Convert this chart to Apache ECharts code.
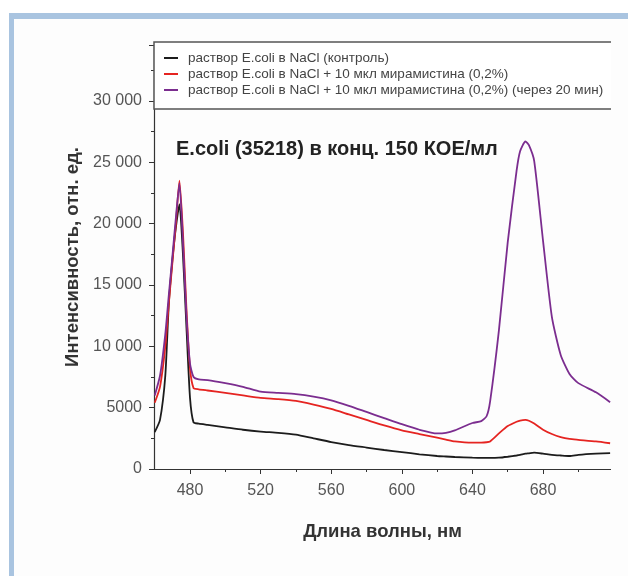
<!DOCTYPE html>
<html>
<head>
<meta charset="utf-8">
<script src="https://cdn.jsdelivr.net/npm/echarts@6/dist/echarts.min.js"></script>
<style>
  html, body { margin: 0; padding: 0; background: #fff; }
  #frame { position: absolute; left: 9px; top: 13px; width: 614px; height: 563px;
    border-top: 6px solid #a9c4e0; border-left: 5px solid #a9c4e0; background: #fdfdfd; }
  #ec { position: absolute; left: 0; top: 0; width: 628px; height: 576px; }
</style>
</head>
<body>
<div id="frame"></div>
<div id="ec"></div>
<script>
// длины волн, нм
var wavelength = [460, 463, 466, 468, 470, 472, 474, 476, 478, 480, 482, 485, 490, 500, 510, 520, 530, 540,
  550, 560, 570, 580, 590, 600, 610, 620, 625, 630, 640, 645, 648, 650, 655, 660, 665, 667, 670, 672, 675, 680,
  685, 690, 695, 700, 710, 718]
// раствор E.coli в NaCl (контроль)
var control = [3000, 4000, 7600, 13500, 17000, 19700, 21600, 17500, 11500, 5800, 3800, 3700, 3600, 3400, 3200, 3050, 2950, 2800,
  2500, 2200, 1950, 1750, 1550, 1380, 1200, 1060, 1020, 980, 920, 900, 900, 900, 920, 1000, 1100, 1150, 1250, 1280, 1330, 1250,
  1150, 1100, 1060, 1150, 1250, 1300]
// + 10 мкл мирамистина
var miram = [5400, 6700, 10000, 13500, 16800, 20000, 23500, 19300, 13000, 8200, 6600, 6500, 6400, 6200, 6000, 5800, 5700, 5550,
  5250, 4900, 4450, 4000, 3550, 3150, 2850, 2550, 2400, 2250, 2150, 2150, 2180, 2250, 2900, 3500, 3850, 3950, 4000, 3930, 3700, 3200,
  2850, 2600, 2450, 2380, 2250, 2100]
// + 10 мкл мирамистина, через 20 мин
var miram20 = [6000, 7600, 11000, 14200, 17300, 20500, 23300, 18500, 12500, 8600, 7500, 7300, 7250, 7000, 6700, 6300, 6200, 6100,
  5900, 5600, 5150, 4650, 4150, 3650, 3200, 2900, 2950, 3150, 3750, 3900, 4300, 5500, 11300, 18500, 24300, 25900, 26700, 26400, 25100, 18600,
  12400, 9300, 7750, 7000, 6250, 5450]

var names = ['раствор E.coli в NaCl (контроль)',
  'раствор E.coli в NaCl + 10 мкл мирамистина (0,2%)',
  'раствор E.coli в NaCl + 10 мкл мирамистина (0,2%) (через 20 мин)']
var colors = ['#1c1c1c', '#e52421', '#7b2d8f']
var majorX = [480, 520, 560, 600, 640, 680]
var minorX = [500, 540, 580, 620, 660, 700]

function pairs(ys) {
  return wavelength.map(function (x, i) { return [x, ys[i]] })
}

var font = 'Liberation Sans, Arial, sans-serif'
var myEchart = echarts.init(document.getElementById('ec'))
myEchart.setOption({
  animation: false,
  color: colors,
  title: {
    text: 'E.coli (35218) в конц. 150 КОЕ/мл',
    left: 171,
    top: 134,
    textStyle: { fontFamily: font, fontSize: 20, fontWeight: 'bold', color: '#222' }
  },
  // исходная картинка обрезана справа
  graphic: [{
    type: 'rect',
    z: 100,
    shape: { x: 611, y: 20, width: 17, height: 556 },
    style: { fill: '#fdfdfd' }
  }],
  legend: {
    orient: 'vertical',
    left: 154,
    top: 42,
    padding: [9, 120, 12, 10],
    itemGap: 2,
    itemWidth: 14,
    itemHeight: 2,
    icon: 'rect',
    backgroundColor: '#fff',
    borderColor: '#555',
    borderWidth: 1.5,
    textStyle: { fontFamily: font, fontSize: 13.5, color: '#444', lineHeight: 14, padding: [0, 0, 0, 5] },
    data: names
  },
  grid: { left: 154, right: 17, top: 45, bottom: 107 },
  xAxis: [{
    type: 'value',
    min: 459.6,
    max: 718.5,
    name: 'Длина волны, нм',
    nameLocation: 'middle',
    nameGap: 53,
    nameTextStyle: { fontFamily: font, fontSize: 18.5, fontWeight: 'bold', color: '#333' },
    axisLine: { lineStyle: { color: '#333', width: 1.2 } },
    axisTick: { length: 5, customValues: majorX, lineStyle: { color: '#333' } },
    axisLabel: { customValues: majorX, margin: 14, fontFamily: font, fontSize: 16, color: '#555' },
    splitLine: { show: false }
  }, {
    type: 'value',
    position: 'bottom',
    min: 459.6,
    max: 718.5,
    axisLine: { show: false },
    axisTick: { length: 3, customValues: minorX, lineStyle: { color: '#333' } },
    axisLabel: { show: false },
    splitLine: { show: false }
  }],
  yAxis: {
    type: 'value',
    min: 0,
    max: 34565,
    interval: 5000,
    name: 'Интенсивность, отн. ед.',
    nameLocation: 'middle',
    nameGap: 72,
    nameTextStyle: { fontFamily: font, fontSize: 18.5, fontWeight: 'bold', color: '#333' },
    axisLine: { show: true, lineStyle: { color: '#333', width: 1.2 } },
    axisTick: { length: 5, lineStyle: { color: '#333' } },
    minorTick: { show: true, splitNumber: 2, length: 3, lineStyle: { color: '#333' } },
    axisLabel: {
      margin: 12, fontFamily: font, fontSize: 16, color: '#555',
      formatter: function (v) {
        if (v % 5000 !== 0) return ''
        return v >= 10000 ? String(v).replace(/\B(?=(\d{3})+(?!\d))/g, ' ') : String(v)
      }
    },
    splitLine: { show: false }
  },
  series: [control, miram, miram20].map(function (ys, i) {
    return {
      name: names[i],
      type: 'line',
      data: pairs(ys),
      showSymbol: false,
      smooth: 0.2,
      lineStyle: { width: 1.8 }
    }
  })
})
</script>
</body>
</html>
